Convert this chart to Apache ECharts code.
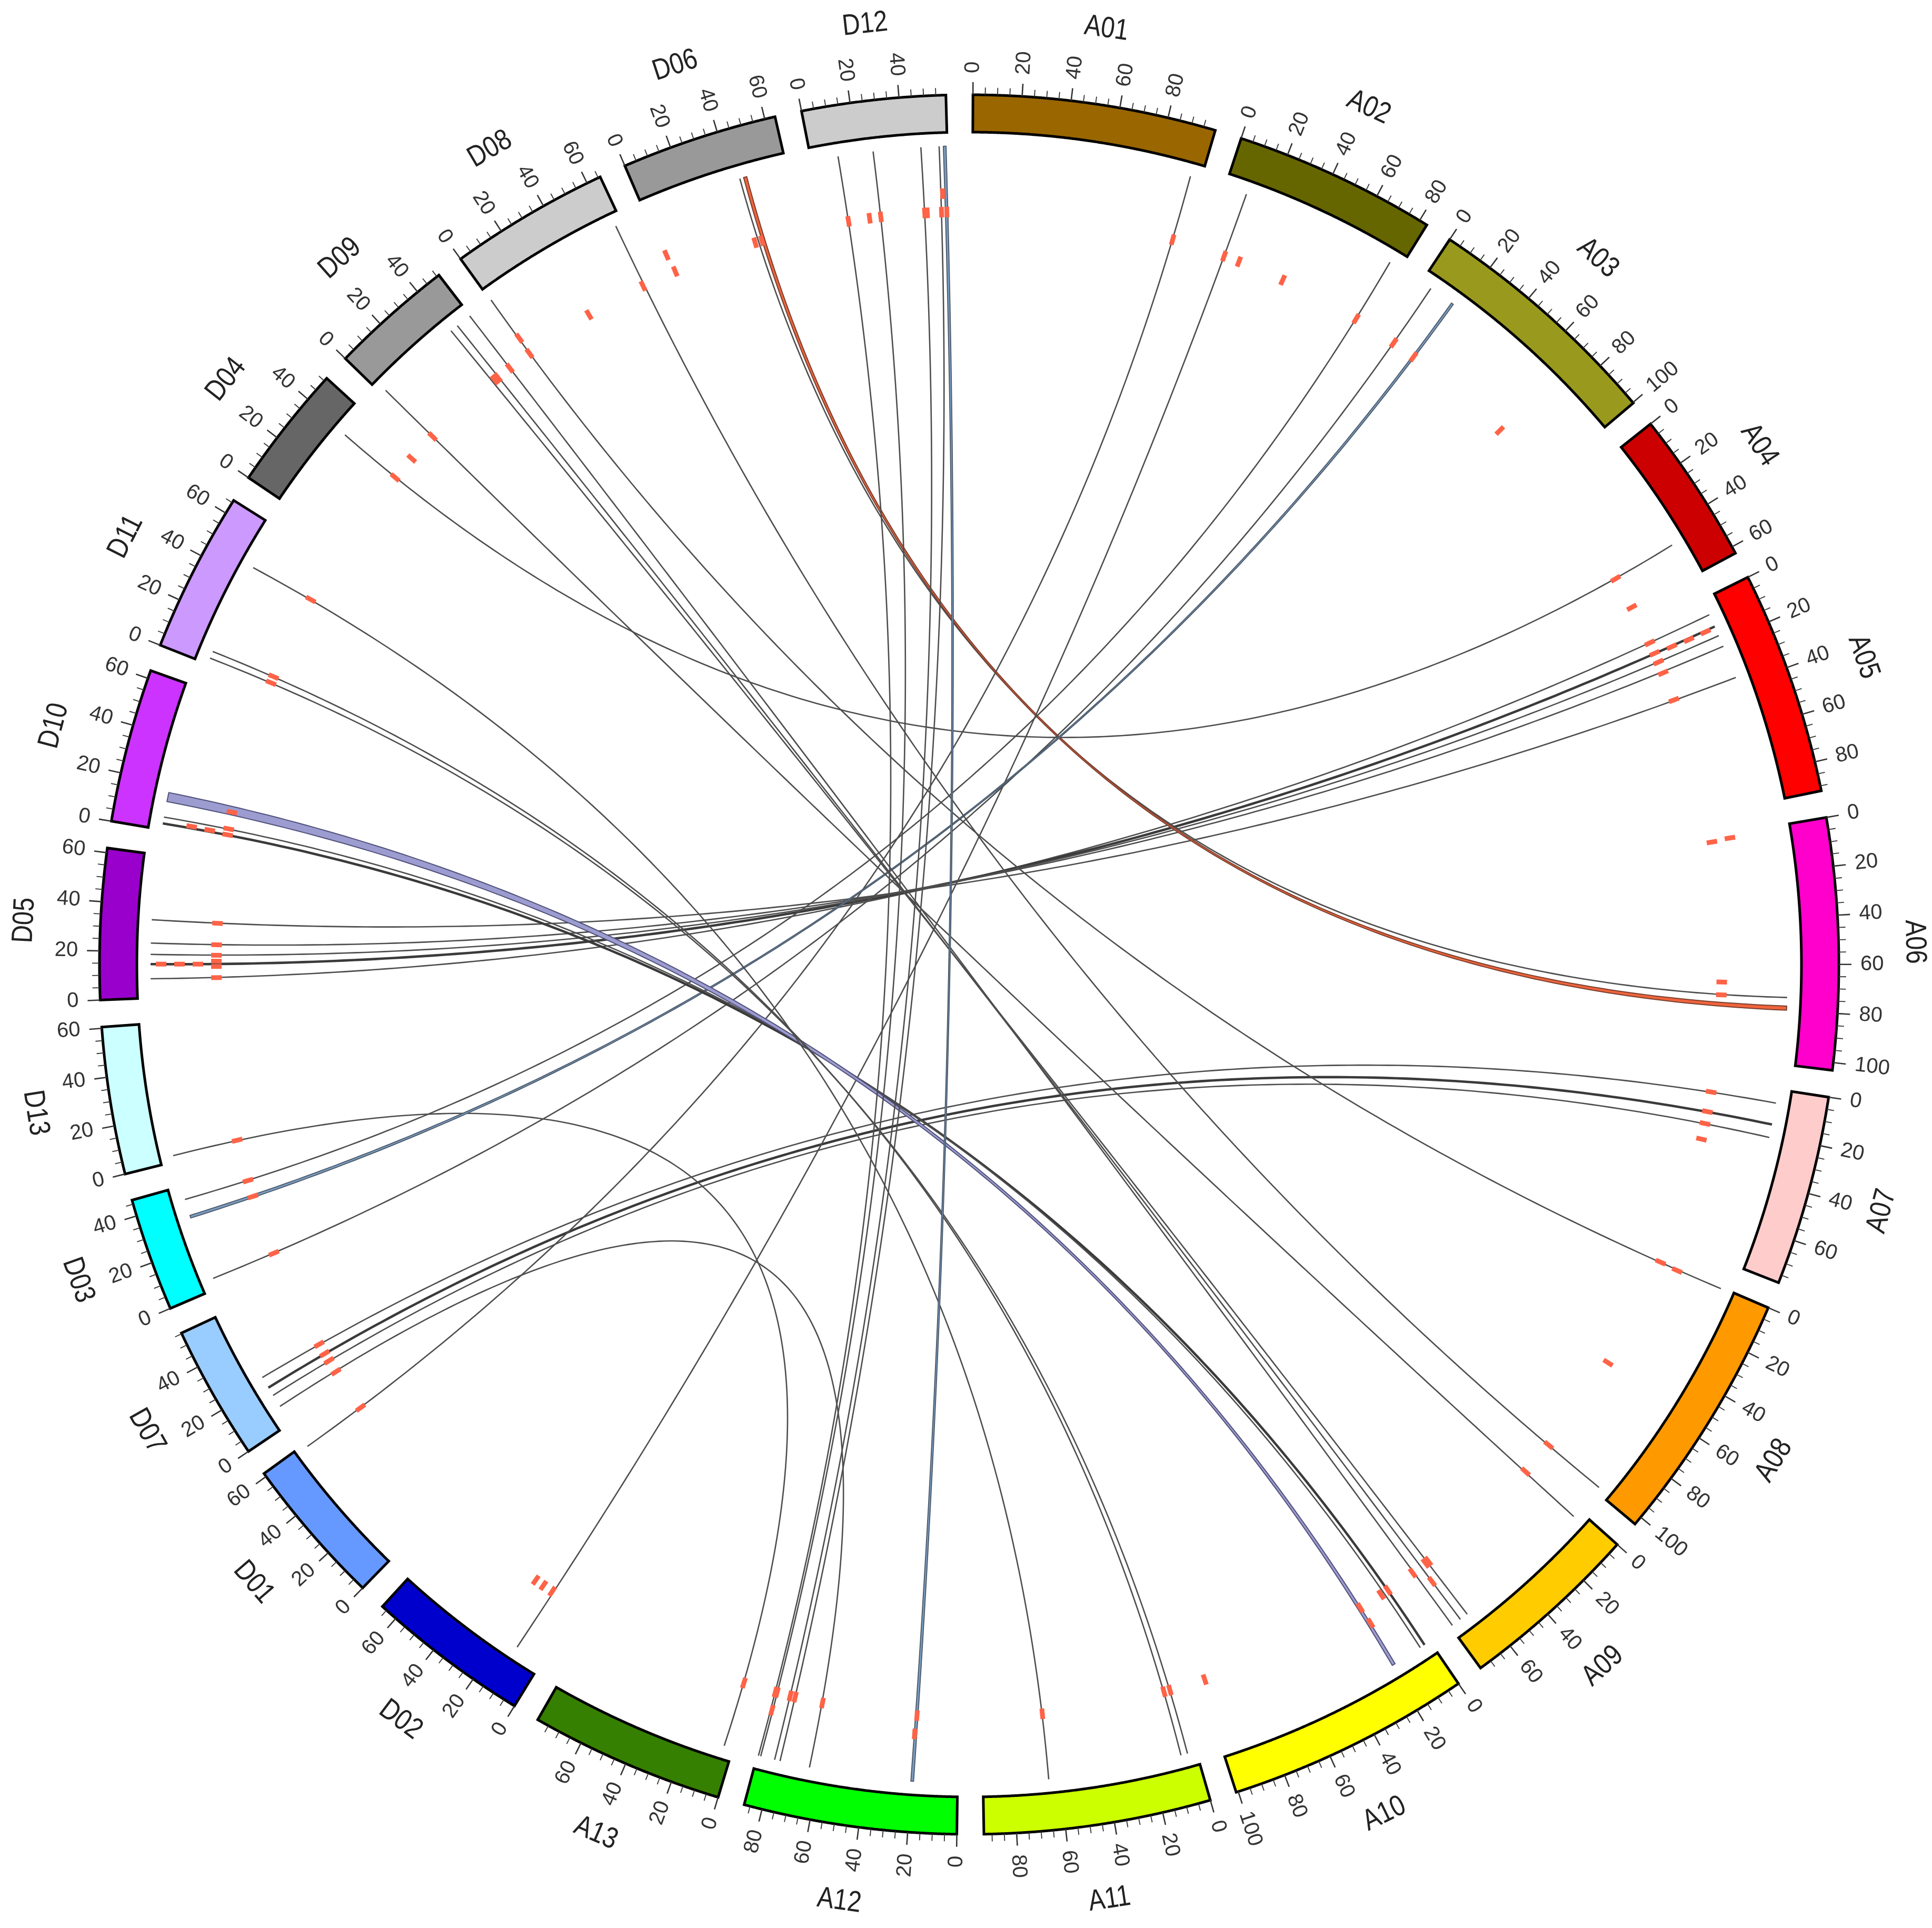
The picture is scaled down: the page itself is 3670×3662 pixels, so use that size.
<!DOCTYPE html>
<html><head><meta charset="utf-8">
<script src="https://cdn.jsdelivr.net/npm/echarts/dist/echarts.min.js"></script>
<style>html,body{margin:0;padding:0;background:#fff}#main{width:3670px;height:3662px}</style>
</head><body><div id="main"></div>
<script>
// ---------------- data ----------------
const chromNames = ['A01','A02','A03','A04','A05','A06','A07','A08','A09','A10','A11','A12','A13',
                    'D02','D01','D07','D03','D13','D05','D10','D11','D04','D09','D08','D06','D12'];
const chromSizes = [99.88,83.45,100.26,62.91,92.05,103.17,78.25,103.63,74.99,100.87,93.32,87.48,79.96,
                    67.28,61.46,55.31,46.69,60.53,61.93,63.37,66.09,51.45,51.00,65.89,64.29,59.11];
const chromColors = ['#996600','#666600','#99991E','#CC0000','#FF0000','#FF00CC','#FFCCCC','#FF9900','#FFCC00','#FFFF00','#CCFF00','#00FF00','#358000',
                     '#0000CC','#6699FF','#99CCFF','#00FFFF','#CCFFFF','#9900CC','#CC33FF','#CC99FF','#666666','#999999','#CCCCCC','#999999','#CCCCCC'];
const tickStep = 5;
const labelStep = 20;

// links: A side (chrom, from, to)  <->  D side (chrom, from, to)
const linkChrA  = ['A05','A05','A05','A05','A05','A06','A06','A04','A12','A07','A07','A07','A13','A01','A02','A03','A03','A02',
                   'A10','A10','A10','A11','A11','A11','A09','A09','A09','A09','A08','A08','A12','A12','A12','A12','A12'];
const linkFromA = [7.1,12.7,17.0,22.0,36.5,74.3,78.0,46.9,64.4,21.1,15.4,6.0,3.9,95.2,9.7,4.9,15.8,78.4,
                   2.7,4.9,17.8,3.9,6.8,64.9,3.5,66.0,69.7,74.0,0.5,101.5,19.0,77.4,79.8,86.0,87.0];
const linkToA   = [7.1,12.7,17.0,22.0,36.5,74.3,79.8,46.9,64.4,21.1,15.4,6.0,3.9,95.2,9.7,4.9,16.8,78.4,
                   2.7,4.9,19.2,3.9,6.8,64.9,3.5,66.0,69.7,74.0,0.5,101.5,20.2,77.4,79.8,86.0,87.0];
const linkChrD  = ['D05','D05','D05','D05','D05','D06','D06','D04','D07','D07','D07','D07','D13','D01','D02','D03','D03','D03',
                   'D10','D10','D10','D11','D11','D11','D09','D09','D09','D09','D08','D08','D12','D12','D12','D12','D12'];
const linkFromD = [8.3,14.6,18.8,23.7,33.8,43.5,45.2,38.7,8.5,14.1,18.0,23.1,2.7,60.0,12.3,4.6,32.4,40.8,
                   2.7,5.5,12.3,2.7,5.8,46.0,2.3,40.5,44.0,50.8,0.3,63.0,57.4,55.6,47.7,27.0,11.7];
const linkToD   = [8.3,14.6,18.8,23.7,33.8,43.5,46.6,38.7,8.5,14.1,18.0,23.1,2.7,60.0,12.3,4.6,33.6,40.8,
                   2.7,5.5,16.3,2.7,5.8,46.0,2.3,40.5,44.0,50.8,0.3,63.0,58.6,55.6,47.7,27.0,11.7];
const linkKind  = ['line','bold','line','line','line','line','red','line','line','line','bold','line','line','line','line','line','blue','line',
                   'bold','line','purple','line','line','line','line','line','line','line','line','line','blue','line','line','line','line'];

// highlighted gene marks (chrom, position, stacking level)
const markChr = ['D12','D12','D12','D12','D12','D12','D12','D12',
  'D06','D06','D06','D06','D08','D08','D08','D08','D09','D09','D09','D09','D04','D04','D11','D11','D11',
  'D10','D10','D10','D10','D10','D05','D05','D05','D05','D05','D05','D05','D05','D05',
  'D13','D03','D03','D03','D07','D07','D07','D07','D01','D02','D02','D02',
  'A13','A12','A12','A12','A12','A12','A12','A12','A12','A11','A11','A11',
  'A10','A10','A10','A10','A10','A09','A09','A09','A09','A09','A08','A08','A08','A08',
  'A07','A07','A07','A07','A06','A06','A06','A06','A05','A05','A05','A05','A05','A05','A05','A05',
  'A04','A04','A03','A03','A03','A02','A02','A02','A02','A01'];
const markPos = [11.7,21.7,27.0,47.7,48.9,55.6,58.1,56.4,
  42.0,45.3,2.1,1.3,62.4,33.6,0.3,0.6,41.8,43.6,50.8,2.3,50.5,38.7,46.0,5.8,2.7,
  13.5,5.5,2.7,3.4,3.6,33.8,23.7,18.8,16.0,13.5,8.3,14.6,14.6,14.6,
  2.7,4.6,33.0,40.8,8.0,14.1,18.0,23.1,60.0,13.0,18.0,22.4,
  3.9,19.5,20.0,64.3,77.4,79.8,86.2,87.0,86.4,3.9,6.8,64.9,
  2.7,6.5,18.1,98.7,17.7,3.2,65.4,66.9,74.5,69.7,0.3,53.6,101.3,0.8,
  6.0,15.4,21.1,28.6,2.3,1.8,68.3,74.3,7.1,12.5,17.0,22.5,36.2,13.0,13.3,13.2,
  46.9,62.3,4.9,16.3,69.6,9.7,17.1,39.4,78.4,95.2];
const markLevel = [0,0,0,0,0,0,0,1,
  0,0,0,1,0,0,0,1,0,0,0,0,0,0,0,0,0,
  0,0,0,1,2,0,0,0,0,0,0,1,2,3,
  0,0,0,0,0,0,0,0,0,0,0,0,
  0,0,1,0,0,0,0,0,1,0,0,0,
  0,0,0,0,1,0,0,0,0,1,0,0,0,1,
  0,0,0,0,0,1,0,0,0,0,0,0,0,1,2,3,
  0,0,0,0,0,0,0,0,0,0];

// ---------------- layout constants ----------------
const GAP = 11, OFFSET_DEG = 0.25;
const R_OUT = 1652, R_IN = 1581, R_LINK = 1555, R_MARK = 1430, MARK_STEP = 35;
const TICK_MAJOR = 24, TICK_MINOR = 14, R_TLABEL = 1693, R_NAME = 1796;
const CTRL_K = -0.03;
const linkStyle = {
  line:   {stroke: '#4d4d4d', width: 2.6},
  bold:   {stroke: '#3a3a3a', width: 4.6},
  red:    {fill: '#F0643C', stroke: '#7a4030', width: 2},
  purple: {fill: '#9C9CD0', stroke: '#50507a', width: 2},
  blue:   {fill: '#7B9CC0', stroke: '#4a5868', width: 1.8}
};

const chromStart = [];
let acc = 0;
chromSizes.forEach(s => { chromStart.push(acc); acc += s + GAP; });
const TOTAL = acc;
const idx = {};
chromNames.forEach((n, i) => idx[n] = i);
function U(name, pos) { return chromStart[idx[name]] + pos; }

// ---------------- geometry helpers (all through the polar coordinate system) ----------------
function xy(api, r, u) { const p = api.coord([r, u]); return [p[0], p[1]]; }
function ctr(api) { return xy(api, 0, 0); }
function arc(api, r, u1, u2) {
  const n = Math.max(2, Math.ceil(Math.abs(u2 - u1) / 0.4) + 1);
  const pts = [];
  for (let k = 0; k < n; k++) pts.push(xy(api, r, u1 + (u2 - u1) * k / (n - 1)));
  return pts;
}
function bez(api, p0, p2, n) {
  const c = ctr(api);
  const mx = (p0[0] + p2[0]) / 2, my = (p0[1] + p2[1]) / 2;
  const cx = c[0] + CTRL_K * (mx - c[0]), cy = c[1] + CTRL_K * (my - c[1]);
  const pts = [];
  for (let k = 0; k <= n; k++) {
    const t = k / n, a = (1 - t) * (1 - t), b = 2 * t * (1 - t), d = t * t;
    pts.push([a * p0[0] + b * cx + d * p2[0], a * p0[1] + b * cy + d * p2[1]]);
  }
  return pts;
}
function phiOf(api, p) { const c = ctr(api); return Math.atan2(-(p[1] - c[1]), p[0] - c[0]); }

const NAME_FONT = "'Liberation Sans','Arial',sans-serif";
const TICK_FONT = "'Liberation Sans','Arial',sans-serif";

const chart = echarts.init(document.getElementById('main'), null, {width: 3670, height: 3662, devicePixelRatio: 1});

const option = {
  backgroundColor: '#ffffff',
  animation: false,
  polar: {center: [1841, 1832], radius: [0, 2000]},
  angleAxis: {type: 'value', min: 0, max: TOTAL, startAngle: 90 - OFFSET_DEG, clockwise: true,
    axisLine: {show: false}, axisTick: {show: false}, axisLabel: {show: false}, splitLine: {show: false}, splitArea: {show: false}},
  radiusAxis: {type: 'value', min: 0, max: 2000,
    axisLine: {show: false}, axisTick: {show: false}, axisLabel: {show: false}, splitLine: {show: false}, splitArea: {show: false}},
  series: [
    { // ideograms
      type: 'custom', coordinateSystem: 'polar', silent: true, z: 2,
      data: chromNames.map((n, i) => [R_OUT, chromStart[i], i]),
      renderItem: function (params, api) {
        const i = api.value(2);
        const u1 = chromStart[i], u2 = u1 + chromSizes[i];
        const pts = arc(api, R_OUT, u1, u2).concat(arc(api, R_IN, u2, u1));
        return {type: 'polygon', shape: {points: pts},
          style: {fill: chromColors[i], stroke: '#000', lineWidth: 5, lineJoin: 'miter'}};
      }
    },
    { // ticks, tick labels, names
      type: 'custom', coordinateSystem: 'polar', silent: true, z: 3,
      data: chromNames.map((n, i) => [R_OUT, chromStart[i], i]),
      renderItem: function (params, api) {
        const i = api.value(2);
        const children = [];
        for (let v = 0; v <= chromSizes[i] + 1e-9; v += tickStep) {
          const u = chromStart[i] + v;
          const major = Math.round(v) % labelStep === 0;
          const p0 = xy(api, R_OUT, u), p1 = xy(api, R_OUT + (major ? TICK_MAJOR : TICK_MINOR), u);
          children.push({type: 'line', shape: {x1: p0[0], y1: p0[1], x2: p1[0], y2: p1[1]},
            style: {stroke: '#333', lineWidth: major ? 2.6 : 1.8}});
          if (major) {
            const pl = xy(api, R_TLABEL, u);
            const phi = phiOf(api, pl);
            let rot = phi, align = 'left';
            if (phi > Math.PI / 2 + 1e-6) { rot = phi - Math.PI; align = 'right'; }
            else if (phi < -Math.PI / 2 - 1e-6) { rot = phi + Math.PI; align = 'right'; }
            children.push({type: 'text', x: pl[0], y: pl[1], rotation: rot,
              style: {text: String(Math.round(v)), fill: '#333', fontSize: 40, fontFamily: TICK_FONT,
                align: align, verticalAlign: 'middle'}});
          }
        }
        const pn = xy(api, R_NAME, chromStart[i] + chromSizes[i] / 2);
        const phiN = phiOf(api, pn);
        let rotN = phiN - Math.PI / 2;
        while (rotN <= -Math.PI / 2 - 1e-6) rotN += Math.PI;
        while (rotN > Math.PI / 2 + 1e-6) rotN -= Math.PI;
        children.push({type: 'text', x: pn[0], y: pn[1], rotation: rotN, scaleX: 0.84, scaleY: 1,
          style: {text: chromNames[i], fill: '#222', fontSize: 56, fontFamily: NAME_FONT,
            align: 'center', verticalAlign: 'middle'}});
        return {type: 'group', children: children};
      }
    },
    { // links
      type: 'custom', coordinateSystem: 'polar', silent: true, z: 4,
      data: linkKind.map((k, j) => [R_LINK, 0, j]),
      renderItem: function (params, api) {
        const j = api.value(2);
        const a1 = U(linkChrA[j], linkFromA[j]), a2 = U(linkChrA[j], linkToA[j]);
        const d1 = U(linkChrD[j], linkFromD[j]), d2 = U(linkChrD[j], linkToD[j]);
        const st = linkStyle[linkKind[j]];
        if (a1 === a2 && d1 === d2) {
          return {type: 'polyline', shape: {points: bez(api, xy(api, R_LINK, a1), xy(api, R_LINK, d1), 160)},
            style: {stroke: st.stroke, lineWidth: st.width, fill: null}};
        }
        const arcA = arc(api, R_LINK, a1, a2), arcD = arc(api, R_LINK, d1, d2);
        const c1 = bez(api, arcA[arcA.length - 1], arcD[0], 160);
        const c2 = bez(api, arcD[arcD.length - 1], arcA[0], 160);
        const pts = arcA.concat(c1.slice(1), arcD.slice(1), c2.slice(1, -1));
        return {type: 'polygon', shape: {points: pts},
          style: {fill: st.fill, stroke: st.stroke, lineWidth: st.width}};
      }
    },
    { // red marks
      type: 'custom', coordinateSystem: 'polar', silent: true, z: 5,
      data: markChr.map((c, j) => [R_MARK, 0, j]),
      renderItem: function (params, api) {
        const j = api.value(2);
        const u = U(markChr[j], markPos[j]);
        const r = R_MARK + MARK_STEP * markLevel[j];
        const pIn = xy(api, r - 10, u), pOut = xy(api, r + 10, u);
        const dx = pOut[0] - pIn[0], dy = pOut[1] - pIn[1], L = Math.hypot(dx, dy);
        const nx = -dy / L * 4.5, ny = dx / L * 4.5;
        return {type: 'polygon', shape: {points: [
          [pIn[0] + nx, pIn[1] + ny], [pOut[0] + nx, pOut[1] + ny], [pOut[0] - nx, pOut[1] - ny], [pIn[0] - nx, pIn[1] - ny]]},
          style: {fill: '#FF6347', stroke: null}};
      }
    }
  ]
};
chart.setOption(option);
</script>
</body></html>
